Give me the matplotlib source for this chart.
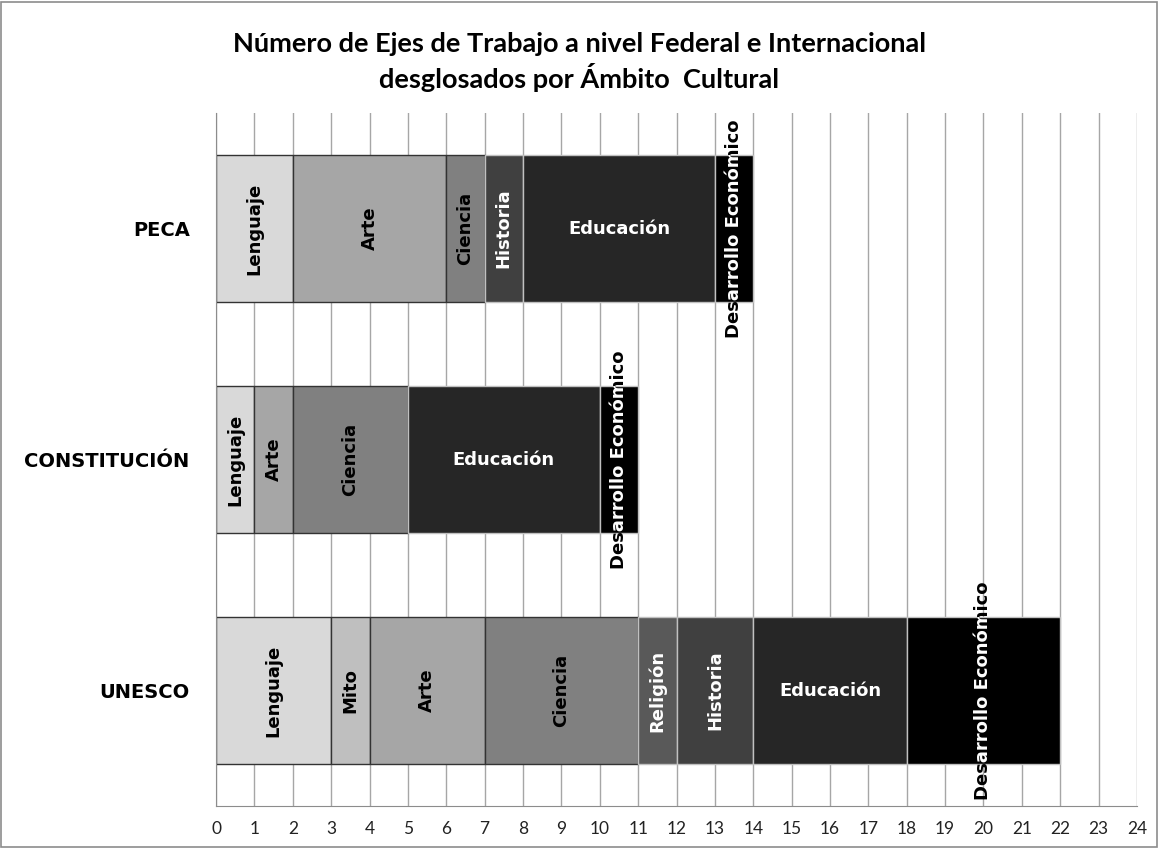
import matplotlib
matplotlib.use("Agg")
import matplotlib.pyplot as plt
from matplotlib.patches import Rectangle

# data
categories = ["PECA", "CONSTITUCIÓN", "UNESCO"]

peca_names = ["Lenguaje", "Arte", "Ciencia", "Historia", "Educación", "Desarrollo Económico"]
peca_values = [2, 4, 1, 1, 5, 1]

constitucion_names = ["Lenguaje", "Arte", "Ciencia", "Educación", "Desarrollo Económico"]
constitucion_values = [1, 1, 3, 5, 1]

unesco_names = ["Lenguaje", "Mito", "Arte", "Ciencia", "Religión", "Historia",
                "Educación", "Desarrollo Económico"]
unesco_values = [3, 1, 3, 4, 1, 2, 4, 4]

x_ticks = list(range(0, 25))

title = ("Número de Ejes de Trabajo a nivel Federal e Internacional\n"
         "desglosados por Ámbito  Cultural")

# grey shade per cultural field
fill = {
    "Lenguaje": "#d9d9d9",
    "Mito": "#bfbfbf",
    "Arte": "#a6a6a6",
    "Ciencia": "#808080",
    "Religión": "#595959",
    "Historia": "#404040",
    "Educación": "#262626",
    "Desarrollo Económico": "#000000",
}
white_text = {"Religión", "Historia", "Educación"}
dark_fill = {"Religión", "Historia", "Educación", "Desarrollo Económico"}

bold_font = ["DejaVu Sans"]
plt.rcParams["font.family"] = ["Lato", "DejaVu Sans"]

fig = plt.figure(figsize=(11.59, 8.48), dpi=100)
ax = fig.add_axes([0.1864, 0.0495, 0.7946, 0.8172])

rows = [(peca_names, peca_values),
        (constitucion_names, constitucion_values),
        (unesco_names, unesco_values)]

lbl = dict(ha="center", va="center", fontsize=13, fontweight="bold",
           family=bold_font)

for i, (names, values) in enumerate(rows):
    left = 0
    for name, v in zip(names, values):
        edge = "#c0c0c0" if name in dark_fill else "#333333"
        bar = ax.barh(i, v, left=left, height=0.64, color=fill[name],
                      edgecolor=edge, linewidth=1, zorder=2)[0]
        cx = left + v / 2.0
        if name == "Desarrollo Económico":
            # label spills out of the bar: black outside, white inside
            ax.text(cx, i, name, rotation=90, color="black", zorder=3, **lbl)
            t = ax.text(cx, i, name, rotation=90, color="white", zorder=4, **lbl)
            t.set_clip_on(True)
            t.set_clip_path(bar)
        else:
            rot = 0 if name == "Educación" else 90
            col = "white" if name in white_text else "black"
            ax.text(cx, i, name, rotation=rot, color=col, zorder=3, **lbl)
        left += v

ax.set_xlim(0, 24)
ax.set_ylim(2.5, -0.5)
ax.set_xticks(x_ticks)
ax.set_xticklabels([str(t) for t in x_ticks], fontsize=12.5, color="#222222")
ax.set_yticks(range(len(categories)))
ax.set_yticklabels(categories, fontsize=14, fontweight="bold", family=bold_font)
ax.tick_params(axis="x", length=0, pad=11)
ax.tick_params(axis="y", length=0, pad=19)

ax.set_axisbelow(True)
ax.grid(axis="x", color="#a6a6a6", linewidth=1)
ax.grid(axis="y", visible=False)
for s in ["top", "right"]:
    ax.spines[s].set_visible(False)
for s in ["left", "bottom"]:
    ax.spines[s].set_color("#8c8c8c")

fig.text(0.5, 0.927, title, ha="center", va="center", fontsize=19.5,
         fontweight="bold", family=["Lato", "DejaVu Sans"], linespacing=1.3)

fig.add_artist(Rectangle((0.001, 0.001), 0.997, 0.997, transform=fig.transFigure,
                         fill=False, edgecolor="#8c8c8c", linewidth=1.2))

fig.savefig("out.png", dpi=100)
